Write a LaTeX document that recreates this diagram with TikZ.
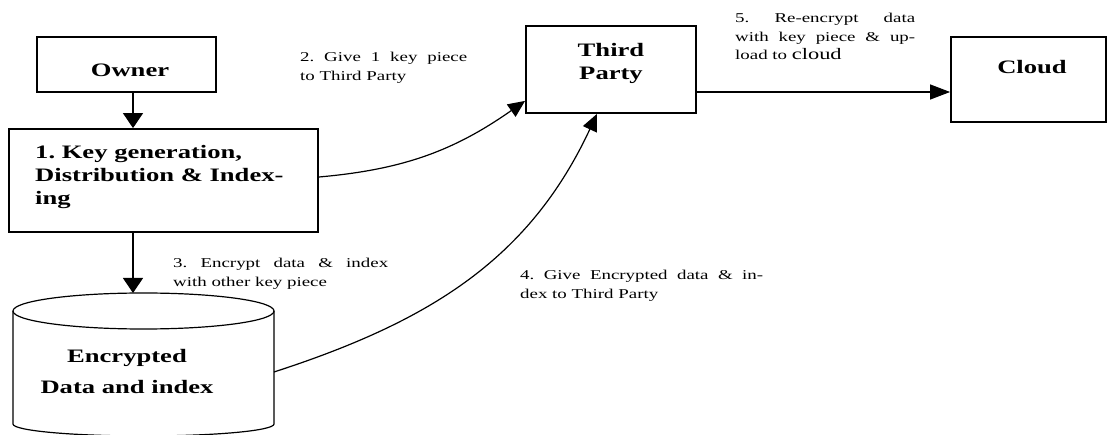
\documentclass[tikz,border=0pt]{standalone}
\usepackage{fontspec}
\setmainfont{Liberation Serif}[FakeStretch=1.4]
\usetikzlibrary{arrows.meta}
\frenchspacing
\begin{document}
\begin{tikzpicture}[x=1pt,y=1pt,
  box/.style={draw, line width=1.8pt, inner sep=0pt},
  bt/.style={font=\fontsize{19}{23}\selectfont\bfseries, inner sep=0pt},
  lab/.style={font=\fontsize{13.5}{18.5}\selectfont\frenchspacing, inner sep=0pt, align=justify, anchor=north west},
  conn/.style={line width=1.2pt},
  vtip/.style={-{Triangle[length=15pt,width=20pt]}},
  htip/.style={-{Triangle[length=20pt,width=15pt]}},
  ctip/.style={-{Triangle[length=17pt,width=15pt]}},
  cylline/.style={line width=1.2pt}]
\useasboundingbox (0,0) rectangle (1114,-435);

% boxes
\node[box, minimum width=179pt, minimum height=55pt] (owner) at (126.5,-64.5) {};
\node[bt] (ownertxt) at (130,-70) {Owner};

\node[box, minimum width=309pt, minimum height=103pt] (kg) at (163.5,-180.5) {};
\node[bt, align=left, anchor=north west] (kgtxt) at (35,-145) {1. Key generation,\\Distribution \& Index-\\ing};

\node[box, minimum width=170pt, minimum height=87pt] (tp) at (611,-69.5) {};
\node[bt, align=center, anchor=north] (tptxt) at (611,-43.5) {Third\\Party};

\node[box, minimum width=155pt, minimum height=85pt] (cloud) at (1028.5,-79.5) {};
\node[bt] (cloudtxt) at (1032,-67) {Cloud};

% cylinder
\draw[cylline] (143.5,-311) ellipse [x radius=130.5, y radius=18];
\draw[cylline] (13,-311) -- (13,-424) arc[start angle=180, end angle=360, x radius=130.5, y radius=12] -- (274,-311);
\coordinate (cyltop) at (133,-293);
\coordinate (cylside) at (274,-372);
\node[bt, align=center, anchor=north] (cyltxt) at (127,-349) {Encrypted\\[8pt]Data and index};

% connectors
\draw[conn, vtip] ([xshift=6.5pt]owner.south) -- ([xshift=6.5pt]owner.south |- kg.north);
\draw[conn, vtip] ([xshift=-30.5pt]kg.south) -- (cyltop);
\draw[conn, ctip] ([yshift=3.5pt]kg.east) to[out=5,in=215] ([yshift=13pt]tp.south west);
\draw[conn, ctip] (cylside) to[out=18,in=245] ([xshift=-14pt]tp.south);
\draw[conn, htip] ([yshift=-22.5pt]tp.east) coordinate (s5) -- (s5 -| cloud.west);

% labels
\node[lab, text width=167pt] (l2) at (300,-52) {2. Give 1 key piece\linebreak to Third Party};
\node[lab, text width=215pt] (l3) at (173,-258) {3. Encrypt data \& index\linebreak with other key piece};
\node[lab, text width=243pt] (l4) at (520,-270) {4. Give Encrypted data \& in-\linebreak dex to Third Party};
\node[lab, text width=180pt] (l5) at (735,-13) {5. Re-encrypt data\linebreak with key piece \& up-\linebreak load to {\fontsize{16}{18.5}\selectfont cloud}};
\end{tikzpicture}
\end{document}
